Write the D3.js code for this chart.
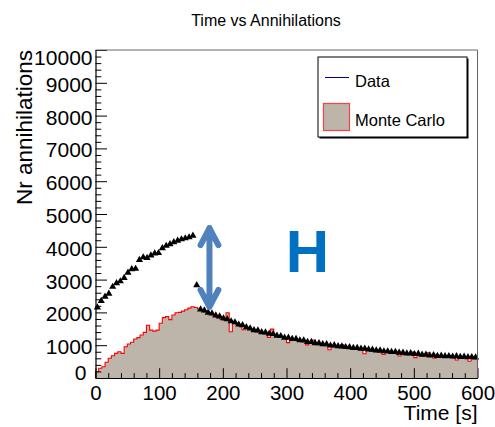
<!DOCTYPE html>
<meta charset="utf-8">
<style>
    body { margin: 0; background: #ffffff; }
    svg { display: block; }
    text { font-family: "Liberation Sans", Arial, sans-serif; }
</style>

<script src="https://cdn.jsdelivr.net/npm/d3@7"></script>

<svg id="chart" width="495" height="427"></svg>

<script>

// Data

var dataBinWidth = 6;      // seconds per data point
var mcBinWidth = 5;        // seconds per Monte Carlo bin

var dataCounts = [
    2150, 2350, 2480, 2570, 2780, 2890, 2950, 3050, 3210, 3320,
    3330, 3600, 3680, 3660, 3740, 3800, 3810, 3960, 4030, 4080,
    4140, 4190, 4230, 4260, 4290, 4340, 2830,
    2090, 2060, 1990, 1970, 1910, 1880, 1820, 1790, 1730, 1700,
    1630, 1610, 1550, 1510, 1460, 1450, 1400, 1390, 1350, 1340,
    1290, 1280, 1230, 1230, 1190, 1190, 1150, 1150, 1100, 1100,
    1060, 1060, 1030, 1030, 990, 1000, 970, 965, 945, 940,
    920, 915, 895, 895, 870, 865, 840, 840, 815, 815,
    795, 800, 775, 775, 750, 755, 730, 740, 710, 715,
    690, 700, 675, 680, 665, 670, 655, 665, 645, 650,
    635, 640, 630
];

var mcCounts = [
    200, 295, 345, 480, 600, 680, 750, 800, 750, 955,
    1035, 1090, 1190, 1230, 1310, 1390, 1610, 1460, 1430, 1460,
    1670, 1840, 1870, 1780, 1920, 1990, 2000, 2040, 2080, 2130,
    2170, 2150, 2110, 2060, 2010, 1970, 1930, 1880, 1840, 1800,
    1760, 1990, 1410, 1670, 1630, 1590, 1470, 1520, 1480, 1450,
    1420, 1400, 1380, 1350, 1240, 1490, 1300, 1280, 1250, 1210,
    1080, 1170, 1150, 1140, 1120, 1100, 1010, 1060, 1160, 1030,
    1020, 1000, 990, 860, 960, 950, 930, 1020, 915, 900,
    890, 880, 870, 860, 740, 900, 830, 815, 800, 790,
    720, 820, 770, 760, 750, 670, 735, 720, 710, 790,
    620, 690, 680, 670, 770, 690, 600, 640, 635, 630,
    628, 625, 620, 550, 605, 600, 595, 510, 590, 585
];

var xTicks = [0, 100, 200, 300, 400, 500, 600];
var yTicks = [0, 1000, 2000, 3000, 4000, 5000, 6000, 7000, 8000, 9000, 10000];

var legendLabels = ['Data', 'Monte Carlo'];

// arrow annotation in data units: [time, top, bottom]
var arrowAt = [179, 4570, 2170];
var letterAt = [333, 3240];


// Setup

var svg = d3.select('svg#chart');

var frameL = 95.5, frameR = 477.5, frameT = 50, frameB = 378;

var x = d3.scaleLinear().domain([0, 600]).range([frameL, frameR]);
var y = d3.scaleLinear().domain([0, 10000]).range([frameB, frameT]);

var histFill = '#bdb5aa';


// Monte Carlo histogram

var mcEdges = mcCounts.map(function (v, i) { return [i * mcBinWidth, v]; });
mcEdges.push([mcCounts.length * mcBinWidth, mcCounts[mcCounts.length - 1]]);

var histArea = d3.area()
    .curve(d3.curveStepAfter)
    .x(function (d) { return x(d[0]); })
    .y0(y(0))
    .y1(function (d) { return y(d[1]); });

var histLine = d3.line()
    .curve(d3.curveStepAfter)
    .x(function (d) { return x(d[0]); })
    .y(function (d) { return y(d[1]); });

svg.append('path')
    .attr('d', histArea(mcEdges))
    .attr('fill', histFill);

svg.append('path')
    .attr('d', 'M' + x(0) + ',' + y(0) + 'L' + histLine(mcEdges).slice(1) + 'L' + x(600) + ',' + y(0))
    .attr('fill', 'none')
    .attr('stroke', '#ff0000')
    .attr('stroke-width', 1.1);


// Data markers

var triangle = d3.symbol().type(d3.symbolTriangle).size(22);

svg.append('g')
    .selectAll('path')
    .data(dataCounts)
    .enter()
    .append('path')
    .attr('d', triangle)
    .attr('fill', '#000')
    .attr('transform', function (d, i) {
        return 'translate(' + x((i + 0.5) * dataBinWidth) + ',' + y(d) + ')';
    });


// Axes (ticks pointing inside the frame, like ROOT)

var yMinor = d3.range(0, 10001, 200).filter(function (v) { return v % 1000 !== 0; });
var xMinor = d3.range(0, 601, 20).filter(function (v) { return v % 100 !== 0; });

svg.append('g')
    .attr('transform', 'translate(' + frameL + ',0)')
    .call(d3.axisLeft(y).tickValues(yMinor).tickSize(-5.8).tickSizeOuter(0).tickFormat(''))
    .call(function (g) { g.select('.domain').remove(); });

svg.append('g')
    .attr('transform', 'translate(0,' + frameB + ')')
    .call(d3.axisBottom(x).tickValues(xMinor).tickSize(-4.9).tickSizeOuter(0).tickFormat(''))
    .call(function (g) { g.select('.domain').remove(); });

var yAxis = svg.append('g')
    .attr('transform', 'translate(' + frameL + ',0)')
    .call(d3.axisLeft(y).tickValues(yTicks).tickSize(-11.5).tickSizeOuter(0).tickPadding(3).tickFormat(d3.format('d')));

var xAxis = svg.append('g')
    .attr('transform', 'translate(0,' + frameB + ')')
    .call(d3.axisBottom(x).tickValues(xTicks).tickSize(-9.8).tickSizeOuter(0).tickPadding(7).tickFormat(d3.format('d')));

svg.selectAll('.tick line').attr('stroke', '#000');
svg.selectAll('.domain').attr('stroke', '#000').attr('stroke-width', 1.2);

yAxis.selectAll('text')
    .attr('font-size', 21)
    .attr('fill', '#000')
    .attr('dy', function (d) { return d === 10000 ? '0.7em' : (d === 0 ? '0.05em' : '0.4em'); })
    .attr('x', function (d) { return d === 0 ? -9 : -3; });

xAxis.selectAll('text')
    .attr('font-size', 20.5)
    .attr('fill', '#000');

// frame top and right
svg.append('path')
    .attr('d', 'M' + frameL + ',' + frameT + 'H' + frameR + 'V' + frameB)
    .attr('fill', 'none')
    .attr('stroke', '#666')
    .attr('stroke-width', 1);


// Titles

svg.append('text')
    .attr('x', 266)
    .attr('y', 26)
    .attr('text-anchor', 'middle')
    .attr('font-size', 16)
    .text('Time vs Annihilations');

svg.append('text')
    .attr('transform', 'translate(32,' + frameT + ') rotate(-90)')
    .attr('text-anchor', 'end')
    .attr('font-size', 22.5)
    .text('Nr annihilations');

svg.append('text')
    .attr('x', frameR)
    .attr('y', 420)
    .attr('text-anchor', 'end')
    .attr('font-size', 21)
    .text('Time [s]');


// Legend

var legend = svg.append('g');

legend.append('rect')
    .attr('x', 319.5).attr('y', 58.5)
    .attr('width', 149).attr('height', 80)
    .attr('fill', '#000');

legend.append('rect')
    .attr('x', 318).attr('y', 57)
    .attr('width', 149).attr('height', 80)
    .attr('fill', '#fff')
    .attr('stroke', '#000')
    .attr('stroke-width', 1);

legend.append('line')
    .attr('x1', 325).attr('x2', 349)
    .attr('y1', 77.5).attr('y2', 77.5)
    .attr('stroke', '#000080')
    .attr('stroke-width', 1);

legend.append('rect')
    .attr('x', 323.5).attr('y', 103.5)
    .attr('width', 26).attr('height', 27)
    .attr('fill', histFill)
    .attr('stroke', '#ff4040')
    .attr('stroke-width', 1.2);

legend.selectAll('text.lab')
    .data(legendLabels)
    .enter()
    .append('text')
    .attr('class', 'lab')
    .attr('x', 355)
    .attr('y', function (d, i) { return i === 0 ? 87 : 126; })
    .attr('font-size', 16.5)
    .text(function (d) { return d; });


// Arrow and "H" annotation

var ax = x(arrowAt[0]);
var aTop = y(arrowAt[1]);
var aBot = y(arrowAt[2]);
var wing = x(arrowAt[0] + 14) - ax;
var headH = 17;

svg.append('path')
    .attr('d', 'M' + ax + ',' + aTop + 'V' + aBot
        + 'M' + (ax - wing) + ',' + (aTop + headH) + 'L' + ax + ',' + aTop + 'L' + (ax + wing) + ',' + (aTop + headH)
        + 'M' + (ax - wing) + ',' + (aBot - headH) + 'L' + ax + ',' + aBot + 'L' + (ax + wing) + ',' + (aBot - headH))
    .attr('fill', 'none')
    .attr('stroke', '#4f81bd')
    .attr('stroke-width', 6)
    .attr('stroke-linecap', 'round')
    .attr('stroke-linejoin', 'round');

svg.append('text')
    .attr('x', x(letterAt[0]))
    .attr('y', y(letterAt[1]))
    .attr('text-anchor', 'middle')
    .attr('font-size', 60)
    .attr('font-weight', 'bold')
    .attr('fill', '#0070c0')
    .text('H');

</script>
